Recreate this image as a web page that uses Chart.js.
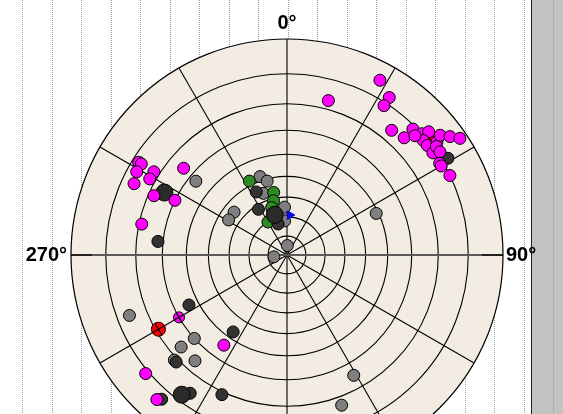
<!DOCTYPE html>
<html>
<head>
<meta charset="utf-8">
<script src="https://cdn.jsdelivr.net/npm/chart.js@4"></script>
<style>
  html, body { margin: 0; padding: 0; overflow: hidden; background: #fff; }
  canvas { display: block; }
</style>
</head>
<body>
<canvas id="net" width="563" height="520"></canvas>
<script>
// azimuth (deg) / plunge (deg)
const magentaAz = [28, 33, 33, 15, 40, 45, 45, 48, 49, 50, 52, 53, 52, 54, 56, 55, 54, 56, 59, 60, 64, 47,
                   302, 302, 299, 302, 295, 299, 294, 296, 310, 282, 215, 230, 222];
const magentaPl = [5, 8, 11, 17, 16, 15, 11, 10, 8, 11, 11, 8, 6, 4, 2, 11, 9, 9, 11, 11, 10, 12,
                   12, 13, 13, 18, 14, 18, 22, 30, 26, 21, 36, 9, 6];
const darkAz = [59, 276, 334, 328, 344, 243, 226, 215, 221, 215, 205];
const darkPl = [8, 28, 54, 62, 73, 36, 19, 43, 7, 14, 19];
const bigDarkAz = [297, 343, 217];
const bigDarkPl = [25, 68, 12];
const grayAz = [309, 341, 345, 339, 357, 356, 309, 301, 2, 262, 65, 249, 228, 229, 227, 221, 151, 160];
const grayPl = [33, 48, 51, 56, 65, 72, 55, 55, 85, 83, 41, 14, 30, 24, 19, 24, 25, 17];
const greenAz = [333, 348, 346, 342, 330];
const greenPl = [48, 57, 61, 64, 70];
const redAz = [51];
const redPl = [9];
const meanAz = [240];        // red mean with cross
const meanPl = [21];
const markedAz = [240];      // magenta with cross
const markedPl = [30];
const blueAz = [4];
const bluePl = [69];

// grid: small circles every 10 deg, spokes every 30 deg
const circleSteps = [10, 20, 30, 40, 50, 60, 70, 80];
const spokeAngles = [0, 30, 60, 90, 120, 150, 180, 210, 240, 270, 300, 330];
const axisLabels = ['0°', '90°', '270°'];
const axisLabelAngles = [0, 90, 270];

function toXY(az, pl) {
    const r = Math.tan((90 - pl) * Math.PI / 360);
    const a = az * Math.PI / 180;
    return { x: r * Math.sin(a), y: r * Math.cos(a) };
}
const pts = (az, pl) => az.map((a, i) => toXY(a, pl[i]));

const stereoGrid = {
    id: 'stereoGrid',
    beforeDraw(chart) {
        const ctx = chart.ctx;
        const W = chart.width, H = chart.height;
        ctx.save();
        ctx.fillStyle = '#fff';
        ctx.fillRect(0, 0, W, H);
        ctx.strokeStyle = '#9c9c9c';
        ctx.lineWidth = 1;
        ctx.setLineDash([1, 1]);
        for (let k = 0; k < 18; k++) {
            const x = Math.round(22 + 29.5 * k) + 0.5;
            ctx.beginPath();
            ctx.moveTo(x, 0);
            ctx.lineTo(x, H);
            ctx.stroke();
        }
        // grey side panel
        ctx.setLineDash([]);
        ctx.fillStyle = '#c2c2c2';
        ctx.fillRect(531, 0, W - 531, H);
        ctx.strokeStyle = '#222';
        ctx.beginPath();
        ctx.moveTo(531.5, 0);
        ctx.lineTo(531.5, H);
        ctx.stroke();
        ctx.strokeStyle = '#999';
        ctx.setLineDash([1, 1]);
        ctx.beginPath();
        ctx.moveTo(553.5, 0);
        ctx.lineTo(553.5, H);
        ctx.stroke();
        ctx.restore();
    },
    beforeDatasetsDraw(chart) {
        const ctx = chart.ctx;
        const xs = chart.scales.x, ys = chart.scales.y;
        const cx = xs.getPixelForValue(0), cy = ys.getPixelForValue(0);
        const R = xs.getPixelForValue(1) - cx;
        ctx.save();
        ctx.fillStyle = '#f2ece3';
        ctx.beginPath();
        ctx.arc(cx, cy, R, 0, Math.PI * 2);
        ctx.fill();

        ctx.strokeStyle = '#000';
        ctx.lineWidth = 1.1;
        circleSteps.forEach(s => {
            const r = xs.getPixelForValue(Math.tan(s * Math.PI / 360)) - cx;
            ctx.beginPath();
            ctx.arc(cx, cy, r, 0, Math.PI * 2);
            ctx.stroke();
        });
        spokeAngles.forEach(a => {
            if (a === 90 || a === 270) return;
            const p = toXY(a, 0);
            ctx.beginPath();
            ctx.moveTo(cx, cy);
            ctx.lineTo(xs.getPixelForValue(p.x), ys.getPixelForValue(p.y));
            ctx.stroke();
        });
        // E-W diameter: grey with dark ends
        ctx.lineWidth = 2;
        ctx.strokeStyle = '#5a5a5a';
        ctx.beginPath();
        ctx.moveTo(cx - R, cy);
        ctx.lineTo(cx + R, cy);
        ctx.stroke();
        ctx.strokeStyle = '#222';
        ctx.beginPath();
        ctx.moveTo(cx - R, cy);
        ctx.lineTo(cx - R + 21, cy);
        ctx.moveTo(cx + R - 21, cy);
        ctx.lineTo(cx + R, cy);
        ctx.stroke();

        ctx.lineWidth = 1.2;
        ctx.strokeStyle = '#000';
        ctx.beginPath();
        ctx.arc(cx, cy, R, 0, Math.PI * 2);
        ctx.stroke();
        ctx.restore();
    },
    afterDraw(chart) {
        const ctx = chart.ctx;
        const xs = chart.scales.x, ys = chart.scales.y;
        const cx = xs.getPixelForValue(0), cy = ys.getPixelForValue(0);
        const R = xs.getPixelForValue(1) - cx;
        ctx.save();
        ctx.fillStyle = '#000';
        ctx.font = 'bold 20px "Liberation Sans", Arial, sans-serif';
        ctx.textBaseline = 'middle';
        axisLabels.forEach((t, i) => {
            const a = axisLabelAngles[i];
            if (a === 0) {
                ctx.textAlign = 'center';
                ctx.fillText(t, cx, cy - R - 16);
            } else if (a === 90) {
                ctx.textAlign = 'left';
                ctx.fillText(t, cx + R + 3, cy);
            } else {
                ctx.textAlign = 'right';
                ctx.fillText(t, cx - R - 4, cy);
            }
        });
        ctx.restore();
    }
};

const dot = (data, color, radius) => ({
    data,
    backgroundColor: color,
    borderColor: '#000',
    borderWidth: 1,
    pointRadius: radius,
    pointStyle: 'circle',
    clip: false
});

// Chart.js paints the first dataset last, so the list runs top -> bottom
new Chart(document.getElementById('net'), {
    type: 'scatter',
    data: {
        datasets: [
            { data: pts(blueAz, bluePl), pointStyle: 'triangle', pointRotation: 90, pointRadius: 5,
              backgroundColor: '#0000ff', borderColor: '#0000cc', borderWidth: 1, clip: false },
            { data: pts(markedAz, markedPl), pointStyle: 'cross', pointRotation: 60, pointRadius: 5.5,
              borderColor: '#000', borderWidth: 1.2, clip: false },
            { data: pts(meanAz, meanPl), pointStyle: 'cross', pointRotation: 60, pointRadius: 7,
              borderColor: '#000', borderWidth: 1.2, clip: false },
            dot(pts(markedAz, markedPl), '#ff00ff', 5.5),
            dot(pts(meanAz, meanPl), '#ff0000', 7),
            dot(pts(magentaAz, magentaPl), '#ff00ff', 6),
            dot(pts(redAz, redPl), '#ff0000', 5),
            dot(pts(bigDarkAz, bigDarkPl), '#2b2b2b', 8.5),
            dot(pts(darkAz, darkPl), '#333333', 6),
            dot(pts(greenAz, greenPl), '#2e8b22', 6),
            dot(pts(grayAz, grayPl), '#7f7f7f', 6)
        ]
    },
    options: {
        responsive: false,
        animation: false,
        layout: { padding: { left: 71, right: 60, top: 39, bottom: 49 } },
        plugins: { legend: { display: false }, tooltip: { enabled: false } },
        scales: {
            x: { type: 'linear', min: -1, max: 1, display: false },
            y: { type: 'linear', min: -1, max: 1, display: false }
        }
    },
    plugins: [stereoGrid]
});
</script>
</body>
</html>
